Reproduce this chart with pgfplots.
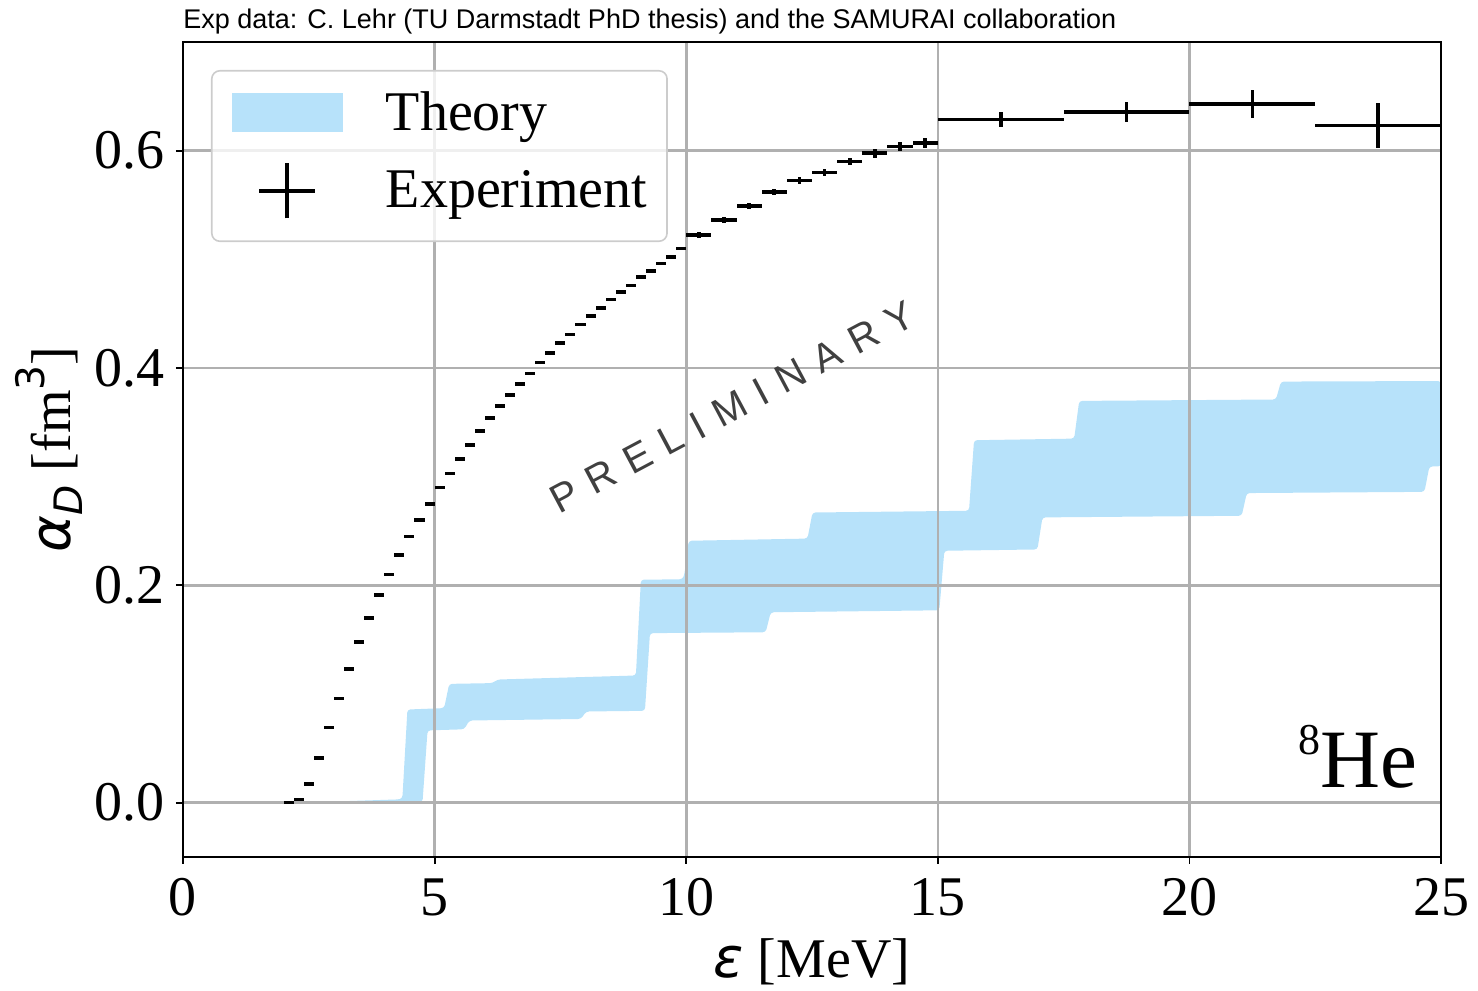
\documentclass[border=0pt]{standalone}
\usepackage{fontspec}
\setmainfont{Liberation Serif}
\newfontfamily\djv{DejaVu Sans}
\newfontfamily\lsans{Liberation Sans}
\usepackage{pgfplots}
\usepackage{pgfplotstable}
\pgfplotsset{compat=1.18}

\definecolor{theory}{RGB}{183,226,250}
\definecolor{gridgray}{RGB}{176,176,176}
\definecolor{legendedge}{RGB}{204,204,204}
\definecolor{stamp}{RGB}{64,64,64}

% measured alpha_D: bin centre, value, half bin width, uncertainty
\pgfplotstableread{
x      y       ex    ey
2.1    0.000   0.10  0.0012
2.3    0.003   0.10  0.0012
2.5    0.017   0.10  0.0012
2.7    0.041   0.10  0.0012
2.9    0.069   0.10  0.0012
3.1    0.096   0.10  0.0012
3.3    0.123   0.10  0.0012
3.5    0.148   0.10  0.0012
3.7    0.170   0.10  0.0012
3.9    0.191   0.10  0.0012
4.1    0.210   0.10  0.0012
4.3    0.228   0.10  0.0012
4.5    0.245   0.10  0.0012
4.7    0.260   0.10  0.0012
4.9    0.275   0.10  0.0012
5.1    0.290   0.10  0.0012
5.3    0.303   0.10  0.0012
5.5    0.316   0.10  0.0012
5.7    0.329   0.10  0.0012
5.9    0.342   0.10  0.0012
6.1    0.354   0.10  0.0012
6.3    0.365   0.10  0.0012
6.5    0.375   0.10  0.0012
6.7    0.385   0.10  0.0012
6.9    0.395   0.10  0.0012
7.1    0.405   0.10  0.0012
7.3    0.414   0.10  0.0012
7.5    0.423   0.10  0.0012
7.7    0.431   0.10  0.0012
7.9    0.440   0.10  0.0012
8.1    0.448   0.10  0.0013
8.3    0.455   0.10  0.0013
8.5    0.463   0.10  0.0013
8.7    0.470   0.10  0.0013
8.9    0.476   0.10  0.0013
9.1    0.484   0.10  0.0015
9.3    0.489   0.10  0.0015
9.5    0.496   0.10  0.0015
9.7    0.502   0.10  0.0015
9.9    0.510   0.10  0.0015
10.25  0.5225  0.25  0.0025
10.75  0.536   0.25  0.0025
11.25  0.549   0.25  0.0030
11.75  0.562   0.25  0.0030
12.25  0.5725  0.25  0.0030
12.75  0.580   0.25  0.0035
13.25  0.590   0.25  0.0035
13.75  0.5976  0.25  0.0040
14.25  0.6037  0.25  0.0040
14.75  0.607   0.25  0.0045
16.25  0.6288  1.25  0.0070
18.75  0.6355  1.25  0.0094
21.25  0.6432  1.25  0.0130
23.75  0.6233  1.25  0.0210
}\expdata

\begin{document}
\begin{tikzpicture}
\begin{axis}[
  name=ax,
  set layers,
  scale only axis,
  width=629pt, height=407.5pt,
  xmin=0, xmax=25, ymin=-0.05, ymax=0.7,
  xtick={0,5,10,15,20,25},
  ytick={0,0.2,0.4,0.6},
  /pgf/number format/assume math mode=true,
  yticklabel style={/pgf/number format/fixed, /pgf/number format/fixed zerofill, /pgf/number format/precision=1},
  tick label style={font=\fontsize{28}{32}\selectfont},
  xticklabel style={inner sep=0pt, anchor=north, yshift=-7pt},
  yticklabel style={inner sep=0pt, anchor=east, xshift=-5.5pt},
  grid=major,
  major grid style={gridgray, line width=1.3pt},
  axis line style={black, line width=0.9pt},
  tick align=outside, tick pos=left,
  major tick length=3.5pt,
  tick style={black, line width=0.9pt},
  xlabel={{\djv\itshape ε} [MeV]},
  xlabel style={at={([yshift=-52.5pt]axis description cs:0.5,0)}, anchor=center, inner sep=0pt, font=\fontsize{28}{32}\selectfont},
  ylabel={{\djv\itshape α}\raisebox{-0.22em}{\djv\itshape\fontsize{19.6}{20}\selectfont D} [fm\raisebox{0.47em}{\djv\fontsize{19.6}{20}\selectfont 3}]},
  ylabel style={at={([xshift=-67pt]axis description cs:0,0.5)}, anchor=center, inner sep=0pt, font=\fontsize{28}{32}\selectfont},
  legend cell align=left,
  legend style={
    at={(0,1)}, anchor=north west, xshift=14pt, yshift=-14pt,
    draw=legendedge, line width=0.8pt, rounded corners=4pt,
    fill=white, fill opacity=0.8, text opacity=1,
    inner xsep=10pt, inner ysep=10.5pt,
    row sep=13.9pt, column sep=21.5pt,
    nodes={inner sep=0pt},
    font=\fontsize{28}{32}\selectfont,
  },
]

% theory band: upper edge left to right, then lower edge right to left
\addplot[fill=theory, draw=none, rounded corners=1.5pt, on layer=axis background,
  legend image code/.code={\fill[theory, fill opacity=1, sharp corners] (0pt,-9.75pt) rectangle (55.5pt,9.75pt);}]
coordinates {
  (2.30,0.000) (4.30,0.003) (4.36,0.004) (4.46,0.0857)
  (5.19,0.087) (5.29,0.1093) (6.15,0.110) (6.25,0.1133)
  (9.00,0.117) (9.10,0.2052) (9.92,0.2055) (9.96,0.209) (10.05,0.241)
  (12.41,0.243) (12.51,0.267) (15.62,0.2686) (15.72,0.3335)
  (17.71,0.335) (17.81,0.3697) (21.72,0.371) (21.82,0.3875) (25.00,0.388)
  (25.00,0.3094) (24.77,0.3094) (24.67,0.286) (21.14,0.2849) (21.04,0.264)
  (17.08,0.2625) (16.98,0.233) (15.13,0.2318) (15.03,0.177)
  (11.68,0.1752) (11.58,0.1568) (9.28,0.156) (9.18,0.0845)
  (8.01,0.0839) (7.91,0.077) (5.69,0.0756) (5.59,0.0675)
  (4.86,0.0665) (4.76,0.0005) (2.30,0.000)
};
\addlegendentry{Theory}

% measurement with bin widths and uncertainties (error bars only, no markers)
\addplot[black, only marks, mark=*, mark size=0pt, mark options={draw=none, fill=none},
  error bars/.cd, x dir=both, x explicit, y dir=both, y explicit, error mark=none,
  error bar style={draw=black, line width=1.8pt},
  /pgfplots/legend image code/.code={\path[draw=none, fill=none] (0pt,0pt) rectangle (55.5pt,0pt);
    \draw[black, line width=1.9pt, sharp corners] (13.75pt,0pt) -- (41.75pt,0pt) (27.75pt,-13.75pt) -- (27.75pt,13.75pt);}]
table[x=x, y=y, x error=ex, y error=ey] {\expdata};
\addlegendentry{Experiment}

\node[rotate=28, text=stamp, inner sep=0pt, font=\lsans\fontsize{20}{24}\selectfont\addfontfeature{LetterSpace=34}]
  at (axis cs:10.91,0.364) {PRELIMINARY};
\end{axis}

\node[anchor=base west, inner sep=0pt, font=\lsans\fontsize{13.5}{16}\selectfont]
  at ([yshift=6.5pt]ax.north west) {Exp data: C. Lehr (TU Darmstadt PhD thesis) and the SAMURAI collaboration};
\node[anchor=base east, inner sep=0pt, font=\fontsize{41.5}{45}\selectfont]
  at ([xshift=-11.5pt,yshift=34.5pt]ax.south east) {\raisebox{16.5pt}{\fontsize{22}{23}\selectfont 8}He};

\pgfresetboundingbox
\path[use as bounding box] ([xshift=-91.5pt,yshift=-67pt]ax.south west) rectangle ([xshift=18.5pt,yshift=21pt]ax.north east);
\end{tikzpicture}
\end{document}
